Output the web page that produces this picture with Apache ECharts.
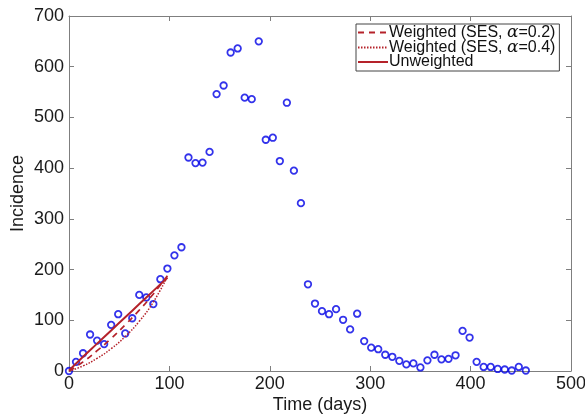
<!DOCTYPE html>
<html><head><meta charset="utf-8">
<script src="https://cdn.jsdelivr.net/npm/echarts@6/dist/echarts.min.js"></script>
<style>html,body{margin:0;padding:0;background:#fff}#c{width:585px;height:419px}</style>
</head><body><div id="c"></div>
<script>
// Observed weekly incidence
const days = [0,7,14,21,28,35,42,49,56,63,70,77,84,91,98,105,112,119,126,133,140,147,154,161,168,175,182,189,196,203,210,217,224,231,238,245,252,259,266,273,280,287,294,301,308,315,322,329,336,343,350,357,364,371,378,385,392,399,406,413,420,427,434,441,448,455];
const incidence = [0,18,35,72,60,53,91,112,74,104,150,145,132,181,202,228,244,421,410,411,432,546,563,628,636,539,536,650,456,460,414,529,395,331,171,133,118,112,122,101,82,113,59,46,43,32,28,20,13,15,7,21,32,23,24,31,79,66,18,8,8,4,3,1,8,1];
// Fitted curves
const fitDays = [0,14,28,42,56,70,84,98];
const ses02 = [0,18,40,64,91,120,152,188];
const ses04 = [0,10,25,44,68,98,136,186];
const unweighted = [1,28,54,80,106,132,158,184];
const xTicks = [0,100,200,300,400,500];
const yTicks = [0,100,200,300,400,500,600,700];

const pair = (xs, ys) => xs.map((x,i)=>[x, ys[i]]);
const red = '#b5222a';
const chart = echarts.init(document.getElementById('c'));
const font = 'Liberation Sans, Arial, Helvetica, sans-serif';
const axCol = '#7f7f7f';
const baseX = {type:'value', min:xTicks[0], max:xTicks[xTicks.length-1], interval:100,
  axisLine:{show:true,onZero:false,lineStyle:{color:axCol,width:1}},
  axisTick:{show:true,inside:true,length:5,lineStyle:{color:axCol}},
  splitLine:{show:false}};
const baseY = {type:'value', min:yTicks[0], max:yTicks[yTicks.length-1], interval:100,
  axisLine:{show:true,onZero:false,lineStyle:{color:axCol,width:1}},
  axisTick:{show:true,inside:true,length:5,lineStyle:{color:axCol}},
  splitLine:{show:false}};
const lbl = {color:'#1a1a1a', fontSize:18, fontFamily:font};
const richT = {n:{fontSize:16,lineHeight:15,height:15,fontFamily:font,color:'#111'}, a:{fontSize:17,lineHeight:15,height:15,fontFamily:'DejaVu Serif, Liberation Serif, serif',fontStyle:'italic',color:'#111'}};
chart.setOption({
  animation:false,
  grid:{left:69,right:14,top:16,bottom:48,containLabel:false,outerBoundsMode:'none'},
  xAxis:[
    Object.assign({}, baseX, {position:'bottom', name:'Time (days)', nameLocation:'middle', nameGap:25, nameMoveOverlap:false,
      nameTextStyle:{fontSize:18,color:'#1a1a1a',fontFamily:font},
      axisLabel:Object.assign({margin:4}, lbl)}),
    Object.assign({}, baseX, {position:'top', axisLabel:{show:false}})
  ],
  yAxis:[
    Object.assign({}, baseY, {position:'left', name:'Incidence', nameLocation:'middle', nameGap:42, nameMoveOverlap:false,
      nameTextStyle:{fontSize:18,color:'#1a1a1a',fontFamily:font},
      axisLabel:Object.assign({margin:5}, lbl)}),
    Object.assign({}, baseY, {position:'right', axisLabel:{show:false}})
  ],
  legend:{
    orient:'vertical', left:356, top:24, itemWidth:30, itemHeight:10, itemGap:-2,
    padding:[0,4,1,1], borderColor:'#444', borderWidth:1, backgroundColor:'#fff',
    itemStyle:{color:'rgba(0,0,0,0)', borderWidth:0, borderColor:'rgba(0,0,0,0)'},
    data:['Weighted (SES, α=0.2)','Weighted (SES, α=0.4)','Unweighted'],
    formatter: function(name){
      if (name.indexOf('α')>=0){
        const parts = name.split('α');
        return '{n|'+parts[0]+'}{a|α}{n|'+parts[1]+'}';
      }
      return '{n|'+name+'}';
    },
    textStyle:{padding:[0,0,0,-4], lineHeight:15, rich:richT}
  },
  series:[
    {name:'Observed', type:'scatter', data:pair(days,incidence), symbol:'circle', symbolSize:6.5,
     itemStyle:{color:'rgba(0,0,0,0)', borderColor:'#0000e6', borderWidth:1.8}, z:3},
    {name:'Weighted (SES, α=0.2)', type:'line', data:pair(fitDays,ses02), smooth:true, showSymbol:false, symbol:'none',
     lineStyle:{color:red,width:1.7,type:[6,5]}, itemStyle:{color:red}, z:4},
    {name:'Weighted (SES, α=0.4)', type:'line', data:pair(fitDays,ses04), smooth:true, showSymbol:false, symbol:'none',
     lineStyle:{color:red,width:1.5,type:[1.5,1.5]}, itemStyle:{color:red}, z:4},
    {name:'Unweighted', type:'line', data:pair(fitDays,unweighted), smooth:true, showSymbol:false, symbol:'none',
     lineStyle:{color:red,width:2}, itemStyle:{color:red}, z:4}
  ]
});
</script></body></html>
